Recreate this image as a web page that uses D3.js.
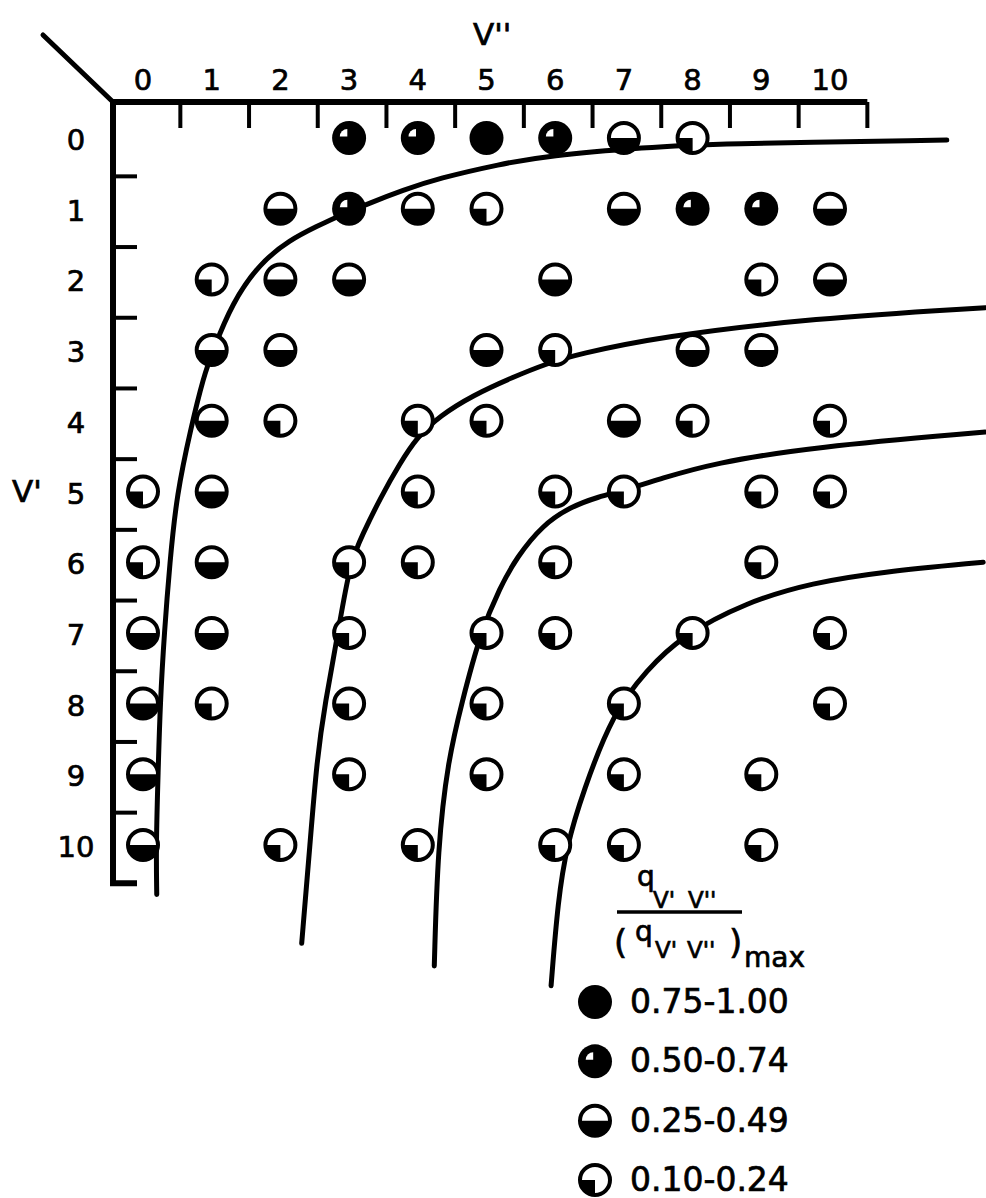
<!DOCTYPE html>
<html>
<head>
<meta charset="utf-8">
<script src="https://cdn.jsdelivr.net/npm/d3@7"></script>
<style>
  html, body { margin: 0; padding: 0; background: #fff; }
  svg { display: block; }
  text { font-family: "DejaVu Sans", sans-serif; fill: #000; stroke: #000; stroke-width: 0.7px; }
</style>
</head>
<body>
<svg id="chart" width="986" height="1198"></svg>
<script>
// Vibrational quantum numbers along each axis
const vDoublePrimeTicks = [0, 1, 2, 3, 4, 5, 6, 7, 8, 9, 10];
const vPrimeTicks = [0, 1, 2, 3, 4, 5, 6, 7, 8, 9, 10];

// Relative Franck-Condon factor bands, q / q_max
const bandLabels = ["0.75-1.00", "0.50-0.74", "0.25-0.49", "0.10-0.24"];

// Bands as [v', v''] pairs
const bandFull = [[0, 5]];
const bandThreeQuarter = [[0, 3], [0, 4], [0, 6], [1, 3], [1, 8], [1, 9]];
const bandHalf = [
  [0, 7], [1, 2], [1, 4], [1, 7], [1, 10],
  [2, 2], [2, 3], [2, 6], [2, 10],
  [3, 1], [3, 2], [3, 5], [3, 8], [3, 9],
  [4, 1], [4, 7], [5, 1], [6, 1],
  [7, 0], [7, 1], [8, 0], [9, 0], [10, 0]
];
const bandQuarter = [
  [0, 8], [1, 5], [2, 1], [2, 9], [3, 6],
  [4, 2], [4, 4], [4, 5], [4, 8], [4, 10],
  [5, 0], [5, 4], [5, 6], [5, 7], [5, 9], [5, 10],
  [6, 0], [6, 3], [6, 4], [6, 6], [6, 9],
  [7, 3], [7, 5], [7, 6], [7, 8], [7, 10],
  [8, 1], [8, 3], [8, 5], [8, 7], [8, 10],
  [9, 3], [9, 5], [9, 7], [9, 9],
  [10, 2], [10, 4], [10, 6], [10, 7], [10, 9]
];

// Condon loci as [v'', v'] points
const locus1 = [[0.2, 10.7], [0.19, 10.0], [0.22, 8.97], [0.25, 7.99], [0.31, 7.0], [0.39, 6.01],
  [0.49, 5.04], [0.7, 4.09], [0.88, 3.38], [1.02, 3.0], [1.3, 2.33], [1.70, 1.77], [2.14, 1.44],
  [2.53, 1.25], [2.9, 1.08], [3.3, 0.92], [3.78, 0.74], [4.3, 0.57], [5.2, 0.37], [5.88, 0.25],
  [7.34, 0.13], [8.3, 0.08], [11.7, 0.03]];
const locus2 = [[2.31, 11.39], [2.43, 10.0], [2.53, 8.8], [2.65, 7.99], [2.84, 7.0], [3.01, 6.01],
  [3.2, 5.6], [3.45, 5.1], [3.74, 4.6], [3.99, 4.23], [4.32, 3.93], [4.8, 3.64], [5.39, 3.38],
  [5.88, 3.19], [6.32, 3.06], [7.53, 2.81], [9.75, 2.55], [12.26, 2.4]];
const locus3 = [[4.24, 11.71], [4.29, 10.03], [4.44, 8.8], [4.64, 7.99], [4.91, 7.0], [5.2, 6.35],
  [5.44, 5.93], [5.82, 5.47], [6.22, 5.22], [6.61, 5.08], [7.05, 4.97], [7.53, 4.82], [8.3, 4.6],
  [9.75, 4.37], [12.26, 4.16]];
const locus4 = [[5.94, 11.99], [6.04, 10.78], [6.17, 10.0], [6.4, 9.26], [6.84, 8.13], [7.34, 7.52],
  [7.82, 7.06], [8.79, 6.56], [9.75, 6.29], [10.73, 6.14], [12.23, 6.0]];

const svg = d3.select("#chart");

const x = d3.scaleLinear().domain([0, 10]).range([143, 830]);
const y = d3.scaleLinear().domain([0, 10]).range([138, 845]);

const axisY = 102;   // top axis line
const axisX = 113;   // left axis line
const ink = "#000";

// corner diagonal
svg.append("line")
  .attr("x1", 43).attr("y1", 35).attr("x2", axisX).attr("y2", axisY)
  .attr("stroke", ink).attr("stroke-width", 5).attr("stroke-linecap", "round");

// top axis (v'')
const xEnd = x(10.5) + 3;
svg.append("path")
  .attr("d", `M${axisX - 2},${axisY} H${xEnd}`)
  .attr("stroke", ink).attr("stroke-width", 6).attr("fill", "none");
svg.append("g").selectAll("line")
  .data(d3.range(0, 11).map(i => i + 0.5))
  .join("line")
  .attr("x1", d => x(d) + 3).attr("x2", d => x(d) + 3)
  .attr("y1", axisY).attr("y2", axisY + 26)
  .attr("stroke", ink).attr("stroke-width", 4);
svg.append("g").selectAll("text")
  .data(vDoublePrimeTicks)
  .join("text")
  .attr("x", d => x(d)).attr("y", 90)
  .attr("text-anchor", "middle")
  .attr("font-size", 29)
  .text(d => d);
svg.append("text")
  .attr("x", 473).attr("y", 45)
  .attr("font-size", 31)
  .text("V''");

// left axis (v')
const yEnd = y(10.5) + 3;
svg.append("path")
  .attr("d", `M${axisX},${axisY - 3} V${yEnd} H${axisX + 24}`)
  .attr("stroke", ink).attr("stroke-width", 6).attr("fill", "none");
svg.append("g").selectAll("line")
  .data(d3.range(0, 10).map(i => i + 0.5))
  .join("line")
  .attr("x1", axisX).attr("x2", axisX + 24)
  .attr("y1", d => y(d) + 3).attr("y2", d => y(d) + 3)
  .attr("stroke", ink).attr("stroke-width", 4);
svg.append("g").selectAll("text")
  .data(vPrimeTicks)
  .join("text")
  .attr("x", 76).attr("y", d => y(d) + 12)
  .attr("text-anchor", "middle")
  .attr("font-size", 29)
  .text(d => d);
svg.append("text")
  .attr("x", 12).attr("y", 502)
  .attr("font-size", 31)
  .text("V'");

// loci
const line = d3.line()
  .x(d => x(d[0]))
  .y(d => y(d[1]))
  .curve(d3.curveBasis);
svg.append("g").selectAll("path")
  .data([locus1, locus2, locus3, locus4])
  .join("path")
  .attr("d", line)
  .attr("fill", "none")
  .attr("stroke", ink)
  .attr("stroke-width", 5)
  .attr("stroke-linecap", "round");

// symbols
const R = 15;
function drawSymbol(g, band, r) {
  if (band === 0) {
    g.append("circle").attr("r", r + 2).attr("fill", ink);
  } else if (band === 1) {
    g.append("circle").attr("r", r + 2).attr("fill", ink);
    g.append("path")
      .attr("transform", `translate(${-0.12 * r},${-0.1 * r})`)
      .attr("d", d3.arc()({innerRadius: 0, outerRadius: 0.5 * r, startAngle: 1.5 * Math.PI, endAngle: 2 * Math.PI}))
      .attr("fill", "#fff");
  } else if (band === 2) {
    g.append("circle").attr("r", r).attr("fill", "#fff").attr("stroke", ink).attr("stroke-width", 4);
    g.append("path")
      .attr("d", d3.arc()({innerRadius: 0, outerRadius: r, startAngle: 0.5 * Math.PI, endAngle: 1.5 * Math.PI}))
      .attr("fill", ink);
  } else {
    g.append("circle").attr("r", r).attr("fill", "#fff").attr("stroke", ink).attr("stroke-width", 4);
    g.append("path")
      .attr("d", d3.arc()({innerRadius: 0, outerRadius: r, startAngle: Math.PI, endAngle: 1.5 * Math.PI}))
      .attr("fill", ink);
  }
}

const cells = [bandFull, bandThreeQuarter, bandHalf, bandQuarter]
  .flatMap((list, band) => list.map(([vp, vpp]) => ({vp, vpp, band})));
svg.append("g").selectAll("g")
  .data(cells)
  .join("g")
  .attr("transform", d => `translate(${x(d.vpp)},${y(d.vp)})`)
  .each(function (d) { drawSymbol(d3.select(this), d.band, R); });

// legend title: q_v'v'' / (q_v'v'')_max
const lg = svg.append("g");
lg.append("text").attr("x", 637).attr("y", 886).attr("font-size", 28).text("q");
lg.append("text").attr("x", 653).attr("y", 908).attr("font-size", 23).text("V'");
lg.append("text").attr("x", 688).attr("y", 908).attr("font-size", 23).text("V''");
lg.append("line").attr("x1", 617).attr("x2", 742).attr("y1", 912).attr("y2", 912)
  .attr("stroke", ink).attr("stroke-width", 3.5);
lg.append("text").attr("x", 614).attr("y", 954).attr("font-size", 34).text("(");
lg.append("text").attr("x", 635).attr("y", 941).attr("font-size", 28).text("q");
lg.append("text").attr("x", 655).attr("y", 958).attr("font-size", 23).text("V'");
lg.append("text").attr("x", 687).attr("y", 958).attr("font-size", 23).text("V''");
lg.append("text").attr("x", 729).attr("y", 954).attr("font-size", 34).text(")");
lg.append("text").attr("x", 744).attr("y", 967).attr("font-size", 28).text("max");

const legendY = d3.scalePoint().domain(bandLabels).range([1002, 1180]);
const items = lg.selectAll("g.item")
  .data(bandLabels)
  .join("g")
  .attr("class", "item")
  .attr("transform", d => `translate(595,${legendY(d)})`);
items.each(function (d, i) { drawSymbol(d3.select(this), i, R); });
items.append("text")
  .attr("x", 35).attr("y", 11)
  .attr("font-size", 33)
  .text(d => d);
</script>
</body>
</html>
